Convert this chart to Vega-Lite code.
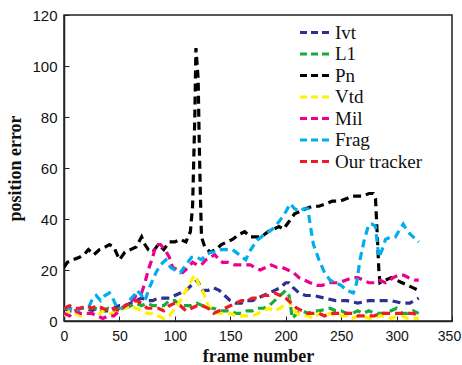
{
"$schema":"https://vega.github.io/schema/vega-lite/v6.json",
"width":388,"height":306,
"autosize":{"type":"none"},
"padding":{"left":64,"top":15,"right":10,"bottom":44},
"background":"white",
"config":{"view":{"stroke":"#222","strokeWidth":1.5}},
"data":{"values":[
{"t":"Ivt","f":0,"e":5},{"t":"Ivt","f":5,"e":4},{"t":"Ivt","f":10,"e":4},{"t":"Ivt","f":15,"e":5},{"t":"Ivt","f":20,"e":5},{"t":"Ivt","f":25,"e":4},{"t":"Ivt","f":30,"e":5},{"t":"Ivt","f":35,"e":4},{"t":"Ivt","f":40,"e":4},{"t":"Ivt","f":45,"e":5},{"t":"Ivt","f":50,"e":6},{"t":"Ivt","f":55,"e":6},{"t":"Ivt","f":60,"e":7},{"t":"Ivt","f":65,"e":8},{"t":"Ivt","f":70,"e":9},{"t":"Ivt","f":75,"e":8},{"t":"Ivt","f":80,"e":8},{"t":"Ivt","f":85,"e":9},{"t":"Ivt","f":90,"e":9},{"t":"Ivt","f":95,"e":9},{"t":"Ivt","f":100,"e":10},{"t":"Ivt","f":105,"e":11},{"t":"Ivt","f":110,"e":12},{"t":"Ivt","f":115,"e":14},{"t":"Ivt","f":120,"e":16},{"t":"Ivt","f":125,"e":12},{"t":"Ivt","f":130,"e":12},{"t":"Ivt","f":135,"e":13},{"t":"Ivt","f":140,"e":12},{"t":"Ivt","f":145,"e":10},{"t":"Ivt","f":150,"e":8},{"t":"Ivt","f":155,"e":7},{"t":"Ivt","f":160,"e":7},{"t":"Ivt","f":165,"e":8},{"t":"Ivt","f":170,"e":8},{"t":"Ivt","f":175,"e":9},{"t":"Ivt","f":180,"e":10},{"t":"Ivt","f":185,"e":11},{"t":"Ivt","f":190,"e":12},{"t":"Ivt","f":195,"e":13},{"t":"Ivt","f":200,"e":15},{"t":"Ivt","f":203,"e":15},{"t":"Ivt","f":207,"e":13},{"t":"Ivt","f":212,"e":11},{"t":"Ivt","f":218,"e":10},{"t":"Ivt","f":225,"e":10},{"t":"Ivt","f":235,"e":9},{"t":"Ivt","f":245,"e":8},{"t":"Ivt","f":255,"e":8},{"t":"Ivt","f":265,"e":7},{"t":"Ivt","f":275,"e":8},{"t":"Ivt","f":285,"e":8},{"t":"Ivt","f":295,"e":8},{"t":"Ivt","f":305,"e":7},{"t":"Ivt","f":312,"e":7},{"t":"Ivt","f":320,"e":9},
{"t":"L1","f":0,"e":5},{"t":"L1","f":5,"e":5},{"t":"L1","f":10,"e":4},{"t":"L1","f":15,"e":5},{"t":"L1","f":20,"e":5},{"t":"L1","f":25,"e":5},{"t":"L1","f":30,"e":5},{"t":"L1","f":35,"e":4},{"t":"L1","f":40,"e":5},{"t":"L1","f":45,"e":4},{"t":"L1","f":50,"e":5},{"t":"L1","f":55,"e":5},{"t":"L1","f":60,"e":6},{"t":"L1","f":65,"e":7},{"t":"L1","f":70,"e":6},{"t":"L1","f":75,"e":7},{"t":"L1","f":80,"e":6},{"t":"L1","f":85,"e":6},{"t":"L1","f":90,"e":6},{"t":"L1","f":95,"e":8},{"t":"L1","f":100,"e":8},{"t":"L1","f":105,"e":6},{"t":"L1","f":110,"e":6},{"t":"L1","f":115,"e":6},{"t":"L1","f":120,"e":7},{"t":"L1","f":125,"e":6},{"t":"L1","f":130,"e":5},{"t":"L1","f":135,"e":5},{"t":"L1","f":140,"e":4},{"t":"L1","f":145,"e":4},{"t":"L1","f":150,"e":4},{"t":"L1","f":155,"e":3},{"t":"L1","f":160,"e":3},{"t":"L1","f":165,"e":4},{"t":"L1","f":170,"e":4},{"t":"L1","f":175,"e":5},{"t":"L1","f":180,"e":5},{"t":"L1","f":185,"e":6},{"t":"L1","f":190,"e":8},{"t":"L1","f":195,"e":10},{"t":"L1","f":200,"e":12},{"t":"L1","f":203,"e":10},{"t":"L1","f":206,"e":1},{"t":"L1","f":210,"e":3},{"t":"L1","f":215,"e":4},{"t":"L1","f":220,"e":3},{"t":"L1","f":225,"e":4},{"t":"L1","f":230,"e":4},{"t":"L1","f":240,"e":5},{"t":"L1","f":245,"e":4},{"t":"L1","f":250,"e":4},{"t":"L1","f":255,"e":3},{"t":"L1","f":260,"e":3},{"t":"L1","f":265,"e":4},{"t":"L1","f":270,"e":3},{"t":"L1","f":275,"e":4},{"t":"L1","f":280,"e":3},{"t":"L1","f":290,"e":3},{"t":"L1","f":295,"e":4},{"t":"L1","f":300,"e":5},{"t":"L1","f":305,"e":3},{"t":"L1","f":310,"e":3},{"t":"L1","f":315,"e":4},{"t":"L1","f":320,"e":3},
{"t":"Pn","f":0,"e":21},{"t":"Pn","f":3,"e":23},{"t":"Pn","f":8,"e":24},{"t":"Pn","f":14,"e":25},{"t":"Pn","f":18,"e":26},{"t":"Pn","f":22,"e":28},{"t":"Pn","f":27,"e":26},{"t":"Pn","f":32,"e":28},{"t":"Pn","f":37,"e":29},{"t":"Pn","f":41,"e":30},{"t":"Pn","f":45,"e":29},{"t":"Pn","f":50,"e":24},{"t":"Pn","f":55,"e":27},{"t":"Pn","f":60,"e":28},{"t":"Pn","f":65,"e":29},{"t":"Pn","f":70,"e":33},{"t":"Pn","f":73,"e":30},{"t":"Pn","f":76,"e":28},{"t":"Pn","f":80,"e":27},{"t":"Pn","f":85,"e":30},{"t":"Pn","f":90,"e":28},{"t":"Pn","f":95,"e":31},{"t":"Pn","f":100,"e":31},{"t":"Pn","f":105,"e":32},{"t":"Pn","f":110,"e":31},{"t":"Pn","f":114,"e":35},{"t":"Pn","f":116,"e":45},{"t":"Pn","f":118,"e":80},{"t":"Pn","f":119,"e":107},{"t":"Pn","f":121,"e":95},{"t":"Pn","f":122,"e":70},{"t":"Pn","f":123,"e":50},{"t":"Pn","f":124,"e":33},{"t":"Pn","f":127,"e":29},{"t":"Pn","f":132,"e":27},{"t":"Pn","f":137,"e":28},{"t":"Pn","f":142,"e":30},{"t":"Pn","f":147,"e":31},{"t":"Pn","f":152,"e":32},{"t":"Pn","f":158,"e":34},{"t":"Pn","f":163,"e":35},{"t":"Pn","f":168,"e":33},{"t":"Pn","f":173,"e":33},{"t":"Pn","f":178,"e":33},{"t":"Pn","f":184,"e":35},{"t":"Pn","f":189,"e":36},{"t":"Pn","f":194,"e":37},{"t":"Pn","f":198,"e":36},{"t":"Pn","f":203,"e":39},{"t":"Pn","f":208,"e":42},{"t":"Pn","f":213,"e":43},{"t":"Pn","f":218,"e":44},{"t":"Pn","f":224,"e":45},{"t":"Pn","f":230,"e":45},{"t":"Pn","f":236,"e":46},{"t":"Pn","f":242,"e":47},{"t":"Pn","f":249,"e":47},{"t":"Pn","f":255,"e":48},{"t":"Pn","f":260,"e":49},{"t":"Pn","f":265,"e":49},{"t":"Pn","f":270,"e":49},{"t":"Pn","f":275,"e":50},{"t":"Pn","f":279,"e":50},{"t":"Pn","f":281,"e":48},{"t":"Pn","f":283,"e":30},{"t":"Pn","f":284,"e":20},{"t":"Pn","f":285,"e":15},{"t":"Pn","f":290,"e":16},{"t":"Pn","f":295,"e":17},{"t":"Pn","f":300,"e":16},{"t":"Pn","f":305,"e":15},{"t":"Pn","f":310,"e":14},{"t":"Pn","f":315,"e":13},{"t":"Pn","f":320,"e":12},
{"t":"Vtd","f":0,"e":2},{"t":"Vtd","f":5,"e":4},{"t":"Vtd","f":10,"e":3},{"t":"Vtd","f":15,"e":2},{"t":"Vtd","f":20,"e":3},{"t":"Vtd","f":25,"e":3},{"t":"Vtd","f":30,"e":2},{"t":"Vtd","f":35,"e":4},{"t":"Vtd","f":40,"e":3},{"t":"Vtd","f":45,"e":3},{"t":"Vtd","f":50,"e":4},{"t":"Vtd","f":55,"e":5},{"t":"Vtd","f":60,"e":6},{"t":"Vtd","f":65,"e":5},{"t":"Vtd","f":70,"e":4},{"t":"Vtd","f":75,"e":3},{"t":"Vtd","f":80,"e":3},{"t":"Vtd","f":85,"e":2},{"t":"Vtd","f":90,"e":1},{"t":"Vtd","f":95,"e":2},{"t":"Vtd","f":100,"e":5},{"t":"Vtd","f":105,"e":8},{"t":"Vtd","f":110,"e":12},{"t":"Vtd","f":115,"e":16},{"t":"Vtd","f":118,"e":18},{"t":"Vtd","f":122,"e":14},{"t":"Vtd","f":125,"e":12},{"t":"Vtd","f":130,"e":6},{"t":"Vtd","f":135,"e":4},{"t":"Vtd","f":140,"e":3},{"t":"Vtd","f":145,"e":3},{"t":"Vtd","f":150,"e":3},{"t":"Vtd","f":155,"e":2},{"t":"Vtd","f":160,"e":2},{"t":"Vtd","f":165,"e":2},{"t":"Vtd","f":170,"e":2},{"t":"Vtd","f":175,"e":3},{"t":"Vtd","f":180,"e":4},{"t":"Vtd","f":185,"e":5},{"t":"Vtd","f":190,"e":4},{"t":"Vtd","f":195,"e":5},{"t":"Vtd","f":200,"e":7},{"t":"Vtd","f":203,"e":8},{"t":"Vtd","f":206,"e":5},{"t":"Vtd","f":210,"e":3},{"t":"Vtd","f":215,"e":2},{"t":"Vtd","f":220,"e":2},{"t":"Vtd","f":225,"e":1},{"t":"Vtd","f":230,"e":3},{"t":"Vtd","f":235,"e":2},{"t":"Vtd","f":240,"e":3},{"t":"Vtd","f":245,"e":2},{"t":"Vtd","f":250,"e":2},{"t":"Vtd","f":255,"e":2},{"t":"Vtd","f":260,"e":1},{"t":"Vtd","f":265,"e":2},{"t":"Vtd","f":270,"e":2},{"t":"Vtd","f":275,"e":1},{"t":"Vtd","f":280,"e":1},{"t":"Vtd","f":285,"e":2},{"t":"Vtd","f":290,"e":2},{"t":"Vtd","f":295,"e":1},{"t":"Vtd","f":300,"e":2},{"t":"Vtd","f":305,"e":2},{"t":"Vtd","f":310,"e":1},{"t":"Vtd","f":315,"e":1},{"t":"Vtd","f":320,"e":1},
{"t":"Mil","f":0,"e":3},{"t":"Mil","f":5,"e":2},{"t":"Mil","f":10,"e":4},{"t":"Mil","f":15,"e":3},{"t":"Mil","f":20,"e":3},{"t":"Mil","f":25,"e":3},{"t":"Mil","f":30,"e":2},{"t":"Mil","f":35,"e":1},{"t":"Mil","f":40,"e":2},{"t":"Mil","f":45,"e":2},{"t":"Mil","f":50,"e":4},{"t":"Mil","f":55,"e":6},{"t":"Mil","f":60,"e":7},{"t":"Mil","f":65,"e":10},{"t":"Mil","f":70,"e":11},{"t":"Mil","f":73,"e":15},{"t":"Mil","f":76,"e":20},{"t":"Mil","f":80,"e":25},{"t":"Mil","f":83,"e":30},{"t":"Mil","f":87,"e":30},{"t":"Mil","f":91,"e":28},{"t":"Mil","f":95,"e":25},{"t":"Mil","f":98,"e":21},{"t":"Mil","f":103,"e":20},{"t":"Mil","f":107,"e":19},{"t":"Mil","f":112,"e":21},{"t":"Mil","f":116,"e":23},{"t":"Mil","f":120,"e":22},{"t":"Mil","f":124,"e":22},{"t":"Mil","f":128,"e":24},{"t":"Mil","f":132,"e":25},{"t":"Mil","f":136,"e":26},{"t":"Mil","f":140,"e":24},{"t":"Mil","f":143,"e":23},{"t":"Mil","f":148,"e":23},{"t":"Mil","f":154,"e":22},{"t":"Mil","f":159,"e":22},{"t":"Mil","f":164,"e":22},{"t":"Mil","f":168,"e":22},{"t":"Mil","f":172,"e":21},{"t":"Mil","f":177,"e":20},{"t":"Mil","f":182,"e":21},{"t":"Mil","f":187,"e":22},{"t":"Mil","f":192,"e":21},{"t":"Mil","f":197,"e":21},{"t":"Mil","f":202,"e":20},{"t":"Mil","f":207,"e":19},{"t":"Mil","f":212,"e":17},{"t":"Mil","f":217,"e":16},{"t":"Mil","f":222,"e":15},{"t":"Mil","f":228,"e":14},{"t":"Mil","f":233,"e":14},{"t":"Mil","f":240,"e":15},{"t":"Mil","f":248,"e":15},{"t":"Mil","f":254,"e":16},{"t":"Mil","f":260,"e":17},{"t":"Mil","f":265,"e":17},{"t":"Mil","f":270,"e":16},{"t":"Mil","f":275,"e":15},{"t":"Mil","f":280,"e":15},{"t":"Mil","f":285,"e":16},{"t":"Mil","f":290,"e":15},{"t":"Mil","f":297,"e":17},{"t":"Mil","f":302,"e":18},{"t":"Mil","f":306,"e":18},{"t":"Mil","f":311,"e":17},{"t":"Mil","f":317,"e":16},{"t":"Mil","f":320,"e":16},
{"t":"Frag","f":0,"e":5},{"t":"Frag","f":5,"e":5},{"t":"Frag","f":10,"e":4},{"t":"Frag","f":15,"e":5},{"t":"Frag","f":20,"e":5},{"t":"Frag","f":23,"e":6},{"t":"Frag","f":26,"e":9},{"t":"Frag","f":29,"e":10},{"t":"Frag","f":33,"e":8},{"t":"Frag","f":37,"e":10},{"t":"Frag","f":41,"e":11},{"t":"Frag","f":44,"e":9},{"t":"Frag","f":47,"e":6},{"t":"Frag","f":52,"e":5},{"t":"Frag","f":56,"e":6},{"t":"Frag","f":59,"e":8},{"t":"Frag","f":63,"e":10},{"t":"Frag","f":66,"e":12},{"t":"Frag","f":70,"e":10},{"t":"Frag","f":73,"e":8},{"t":"Frag","f":77,"e":13},{"t":"Frag","f":80,"e":16},{"t":"Frag","f":83,"e":19},{"t":"Frag","f":87,"e":22},{"t":"Frag","f":92,"e":24},{"t":"Frag","f":96,"e":21},{"t":"Frag","f":100,"e":20},{"t":"Frag","f":105,"e":19},{"t":"Frag","f":110,"e":22},{"t":"Frag","f":115,"e":25},{"t":"Frag","f":120,"e":25},{"t":"Frag","f":124,"e":24},{"t":"Frag","f":128,"e":26},{"t":"Frag","f":133,"e":27},{"t":"Frag","f":137,"e":27},{"t":"Frag","f":142,"e":28},{"t":"Frag","f":147,"e":28},{"t":"Frag","f":152,"e":28},{"t":"Frag","f":158,"e":26},{"t":"Frag","f":164,"e":24},{"t":"Frag","f":167,"e":27},{"t":"Frag","f":170,"e":29},{"t":"Frag","f":175,"e":32},{"t":"Frag","f":181,"e":34},{"t":"Frag","f":188,"e":36},{"t":"Frag","f":194,"e":39},{"t":"Frag","f":199,"e":42},{"t":"Frag","f":204,"e":46},{"t":"Frag","f":208,"e":44},{"t":"Frag","f":213,"e":43},{"t":"Frag","f":216,"e":44},{"t":"Frag","f":220,"e":44},{"t":"Frag","f":222,"e":38},{"t":"Frag","f":225,"e":30},{"t":"Frag","f":230,"e":24},{"t":"Frag","f":235,"e":19},{"t":"Frag","f":240,"e":16},{"t":"Frag","f":245,"e":15},{"t":"Frag","f":250,"e":14},{"t":"Frag","f":255,"e":12},{"t":"Frag","f":261,"e":11},{"t":"Frag","f":264,"e":15},{"t":"Frag","f":267,"e":24},{"t":"Frag","f":271,"e":32},{"t":"Frag","f":275,"e":38},{"t":"Frag","f":278,"e":38},{"t":"Frag","f":281,"e":37},{"t":"Frag","f":284,"e":25},{"t":"Frag","f":287,"e":28},{"t":"Frag","f":290,"e":32},{"t":"Frag","f":295,"e":33},{"t":"Frag","f":299,"e":33},{"t":"Frag","f":303,"e":36},{"t":"Frag","f":306,"e":38},{"t":"Frag","f":310,"e":35},{"t":"Frag","f":315,"e":33},{"t":"Frag","f":320,"e":31},
{"t":"Our tracker","f":0,"e":5},{"t":"Our tracker","f":5,"e":6},{"t":"Our tracker","f":10,"e":5},{"t":"Our tracker","f":15,"e":5},{"t":"Our tracker","f":20,"e":6},{"t":"Our tracker","f":25,"e":5},{"t":"Our tracker","f":30,"e":6},{"t":"Our tracker","f":35,"e":5},{"t":"Our tracker","f":40,"e":4},{"t":"Our tracker","f":45,"e":5},{"t":"Our tracker","f":50,"e":4},{"t":"Our tracker","f":55,"e":6},{"t":"Our tracker","f":60,"e":7},{"t":"Our tracker","f":65,"e":8},{"t":"Our tracker","f":70,"e":7},{"t":"Our tracker","f":75,"e":5},{"t":"Our tracker","f":80,"e":5},{"t":"Our tracker","f":85,"e":5},{"t":"Our tracker","f":90,"e":4},{"t":"Our tracker","f":95,"e":6},{"t":"Our tracker","f":100,"e":7},{"t":"Our tracker","f":105,"e":6},{"t":"Our tracker","f":110,"e":4},{"t":"Our tracker","f":115,"e":5},{"t":"Our tracker","f":120,"e":6},{"t":"Our tracker","f":125,"e":6},{"t":"Our tracker","f":130,"e":5},{"t":"Our tracker","f":135,"e":3},{"t":"Our tracker","f":140,"e":4},{"t":"Our tracker","f":145,"e":5},{"t":"Our tracker","f":150,"e":6},{"t":"Our tracker","f":155,"e":7},{"t":"Our tracker","f":160,"e":8},{"t":"Our tracker","f":165,"e":8},{"t":"Our tracker","f":170,"e":9},{"t":"Our tracker","f":175,"e":9},{"t":"Our tracker","f":180,"e":10},{"t":"Our tracker","f":185,"e":10},{"t":"Our tracker","f":190,"e":11},{"t":"Our tracker","f":195,"e":10},{"t":"Our tracker","f":200,"e":9},{"t":"Our tracker","f":205,"e":7},{"t":"Our tracker","f":210,"e":5},{"t":"Our tracker","f":215,"e":4},{"t":"Our tracker","f":220,"e":3},{"t":"Our tracker","f":225,"e":3},{"t":"Our tracker","f":230,"e":3},{"t":"Our tracker","f":235,"e":2},{"t":"Our tracker","f":240,"e":3},{"t":"Our tracker","f":245,"e":3},{"t":"Our tracker","f":250,"e":3},{"t":"Our tracker","f":255,"e":3},{"t":"Our tracker","f":260,"e":3},{"t":"Our tracker","f":265,"e":2},{"t":"Our tracker","f":270,"e":2},{"t":"Our tracker","f":275,"e":2},{"t":"Our tracker","f":280,"e":2},{"t":"Our tracker","f":285,"e":3},{"t":"Our tracker","f":290,"e":3},{"t":"Our tracker","f":295,"e":3},{"t":"Our tracker","f":300,"e":3},{"t":"Our tracker","f":305,"e":3},{"t":"Our tracker","f":310,"e":3},{"t":"Our tracker","f":315,"e":3},{"t":"Our tracker","f":320,"e":2}
]},
"mark":{"type":"line","strokeWidth":3.2,"strokeDash":[8,5],"strokeCap":"butt","clip":true},
"encoding":{
"x":{"field":"f","type":"quantitative","scale":{"domain":[0,350],"nice":false},
"axis":{"title":"frame number","values":[0,50,100,150,200,250,300,350],"grid":false,"tickSize":-5,"tickColor":"#222","domainColor":"#222","domainWidth":1.5,"labelPadding":13,"labelFont":"Liberation Sans","labelFontSize":14,"labelColor":"#111","labelOffset":{"condition":{"test":"datum.value == 350","value":-3},"value":0},"titleFont":"Liberation Serif","titleFontSize":18,"titleFontWeight":"bold","titleColor":"#111","titleY":26,"labelFlush":false}},
"y":{"field":"e","type":"quantitative","scale":{"domain":[0,120],"nice":false},
"axis":{"title":"position error","values":[0,20,40,60,80,100,120],"grid":false,"tickSize":-5,"tickColor":"#222","domainColor":"#222","domainWidth":1.5,"labelPadding":12,"labelFont":"Liberation Sans","labelFontSize":15,"labelColor":"#111","titleFont":"Liberation Serif","titleFontSize":18,"titleFontWeight":"bold","titleColor":"#111","titleX":-40,"labelFlush":false}},
"color":{"field":"t","type":"nominal","sort":["Ivt","L1","Pn","Vtd","Mil","Frag","Our tracker"],
"scale":{"domain":["Ivt","L1","Pn","Vtd","Mil","Frag","Our tracker"],"range":["#2e3192","#1aab3c","#000000","#fff200","#ec008c","#00aeef","#ed1c24"]},
"legend":{"title":null,"orient":"none","legendX":243,"legendY":8,"symbolType":"M-3,0H3","symbolSize":121,"symbolStrokeWidth":3,"symbolDash":[7,4],"labelFont":"Liberation Serif","labelFontSize":19,"labelColor":"#111","labelOffset":9,"rowPadding":1.5,"labelLimit":200}},
"order":{"field":"f","type":"quantitative"}
}
}
